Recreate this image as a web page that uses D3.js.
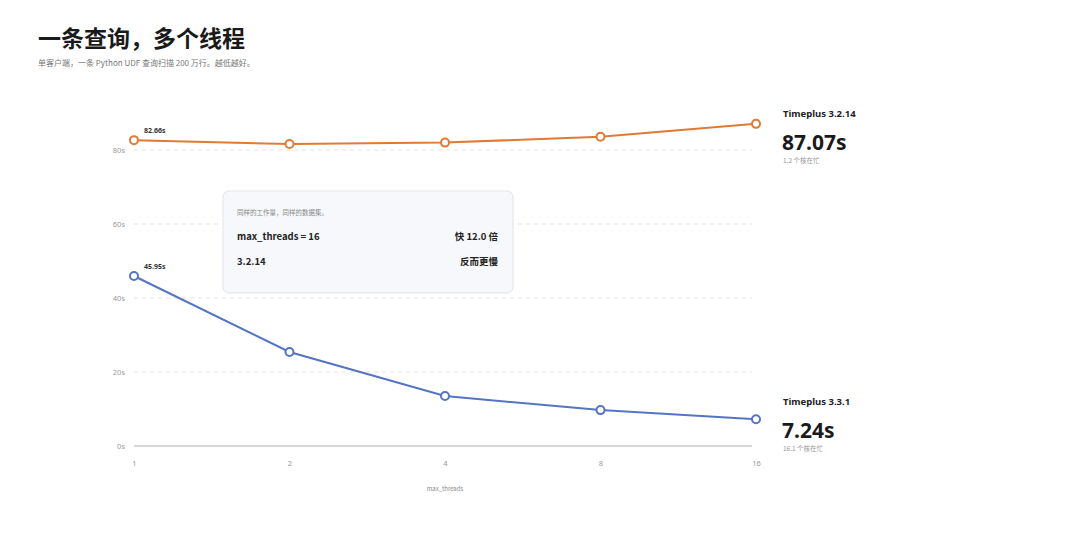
<!DOCTYPE html>
<html>
<head>
<meta charset="utf-8">
<script src="https://cdn.jsdelivr.net/npm/d3@7"></script>
<style>
  body { margin: 0; background: #fff; }
  svg { display: block; font-family: "Noto Sans CJK SC", "Noto Sans", sans-serif; }
</style>
</head>
<body>
<div id="chart"></div>
<script>
let threads = [1, 2, 4, 8, 16];
let oldTimes = [82.66, 81.6, 82.0, 83.6, 87.07];   // Timeplus 3.2.14
let newTimes = [45.95, 25.4, 13.5, 9.7, 7.24];     // Timeplus 3.3.1
let yTicks = [0, 20, 40, 60, 80];
let seriesNames = ["Timeplus 3.2.14", "Timeplus 3.3.1"];
let coreNotes = ["1.2 个核在忙", "16.1 个核在忙"];

let colorOrange = "#e07a34";
let colorBlue = "#5474c4";

let width = 1080,
    height = 540;

let svg = d3.select("#chart")
    .append("svg")
    .attr("width", width)
    .attr("height", height);

let x = d3.scaleLog().base(2)
    .domain([1, 16])
    .range([134, 756]);

let y = d3.scaleLinear()
    .domain([0, 90])
    .range([446, 113]);

// title
svg.append("text")
    .attr("x", 38).attr("y", 47)
    .style("font-size", "23px").style("font-weight", 700)
    .style("fill", "#1a1a1a")
    .text("一条查询，多个线程");

svg.append("text")
    .attr("x", 38).attr("y", 66)
    .style("font-size", "8px")
    .style("fill", "#777")
    .text("单客户端，一条 Python UDF 查询扫描 200 万行。越低越好。");

// grid
svg.selectAll(".grid")
    .data(yTicks.filter(d => d > 0))
    .enter()
    .append("line")
    .attr("class", "grid")
    .attr("x1", 134).attr("x2", 752)
    .attr("y1", d => y(d)).attr("y2", d => y(d))
    .style("stroke", "#e3e3e3")
    .style("stroke-dasharray", "4,4");

svg.append("line")
    .attr("x1", 134).attr("x2", 752)
    .attr("y1", y(0)).attr("y2", y(0))
    .style("stroke", "#c8c8c8")
    .style("stroke-width", 1.5);

// y axis labels
let yAxis = d3.axisLeft(y)
    .tickValues(yTicks)
    .tickSize(0)
    .tickPadding(0)
    .tickFormat(d => d + "s");

svg.append("g")
    .attr("transform", "translate(125,0)")
    .call(yAxis)
    .call(g => g.select(".domain").remove())
    .selectAll("text")
    .style("font-size", "7.5px")
    .style("font-family", "Noto Sans, sans-serif")
    .style("fill", "#999");

// x axis labels
let xAxis = d3.axisBottom(x)
    .tickValues(threads)
    .tickSize(0)
    .tickPadding(0)
    .tickFormat(d3.format("d"));

svg.append("g")
    .attr("transform", "translate(0,461)")
    .call(xAxis)
    .call(g => g.select(".domain").remove())
    .selectAll("text")
    .style("font-size", "7.5px")
    .style("font-family", "Noto Sans, sans-serif")
    .style("fill", "#999");

svg.append("text")
    .attr("x", 445).attr("y", 491)
    .attr("text-anchor", "middle")
    .style("font-size", "6px")
    .style("fill", "#888")
    .text("max_threads");

// tooltip box
let tip = svg.append("g");
tip.append("rect")
    .attr("x", 223).attr("y", 191)
    .attr("width", 290).attr("height", 102)
    .attr("rx", 6)
    .style("fill", "#f6f8fb")
    .style("stroke", "#dfe3ea");
tip.append("text")
    .attr("x", 237).attr("y", 215)
    .style("font-size", "6.5px").style("fill", "#888")
    .text("同样的工作量，同样的数据集。");
tip.append("text")
    .attr("x", 237).attr("y", 240)
    .style("font-size", "9.5px").style("font-weight", 700).style("fill", "#222")
    .text("max_threads = 16");
tip.append("text")
    .attr("x", 498).attr("y", 240)
    .attr("text-anchor", "end")
    .style("font-size", "9.5px").style("font-weight", 700).style("fill", "#222")
    .text("快 12.0 倍");
tip.append("text")
    .attr("x", 237).attr("y", 265)
    .style("font-size", "9.5px").style("font-weight", 700).style("fill", "#222")
    .text("3.2.14");
tip.append("text")
    .attr("x", 498).attr("y", 265)
    .attr("text-anchor", "end")
    .style("font-size", "9.5px").style("font-weight", 700).style("fill", "#222")
    .text("反而更慢");

// series
let line = d3.line()
    .x(d => x(d[0]))
    .y(d => y(d[1]));

let series = [
    {name: seriesNames[0], values: oldTimes, color: colorOrange, note: coreNotes[0], labelShift: -7},
    {name: seriesNames[1], values: newTimes, color: colorBlue, note: coreNotes[1], labelShift: -14}
];

series.forEach(function(s) {
    let pts = threads.map((t, i) => [t, s.values[i]]);

    svg.append("path")
        .datum(pts)
        .attr("d", line)
        .style("fill", "none")
        .style("stroke", s.color)
        .style("stroke-width", 2);

    svg.selectAll(null)
        .data(pts)
        .enter()
        .append("circle")
        .attr("cx", d => x(d[0]))
        .attr("cy", d => y(d[1]))
        .attr("r", 4)
        .style("fill", "#fff")
        .style("stroke", s.color)
        .style("stroke-width", 2);

    // first point value label
    svg.append("text")
        .attr("x", x(pts[0][0]) + 10)
        .attr("y", y(pts[0][1]) - 7)
        .style("font-size", "7px").style("font-weight", 700)
        .style("font-family", "Noto Sans, sans-serif")
        .style("fill", "#333")
        .text(pts[0][1].toFixed(2) + "s");

    // right side labels
    let last = pts[pts.length - 1];
    let ly = y(last[1]) + s.labelShift;
    svg.append("text")
        .attr("x", 783).attr("y", ly)
        .style("font-size", "9.5px").style("font-weight", 700)
        .style("font-family", "Noto Sans, sans-serif")
        .style("fill", "#222")
        .text(s.name);
    svg.append("text")
        .attr("x", 782).attr("y", ly + 33)
        .style("font-size", "21px").style("font-weight", 700)
        .style("font-family", "Noto Sans, sans-serif")
        .style("fill", "#1a1a1a")
        .text(last[1].toFixed(2) + "s");
    svg.append("text")
        .attr("x", 783).attr("y", ly + 46)
        .style("font-size", "6.5px")
        .style("fill", "#999")
        .text(s.note);
});
</script>
</body>
</html>
